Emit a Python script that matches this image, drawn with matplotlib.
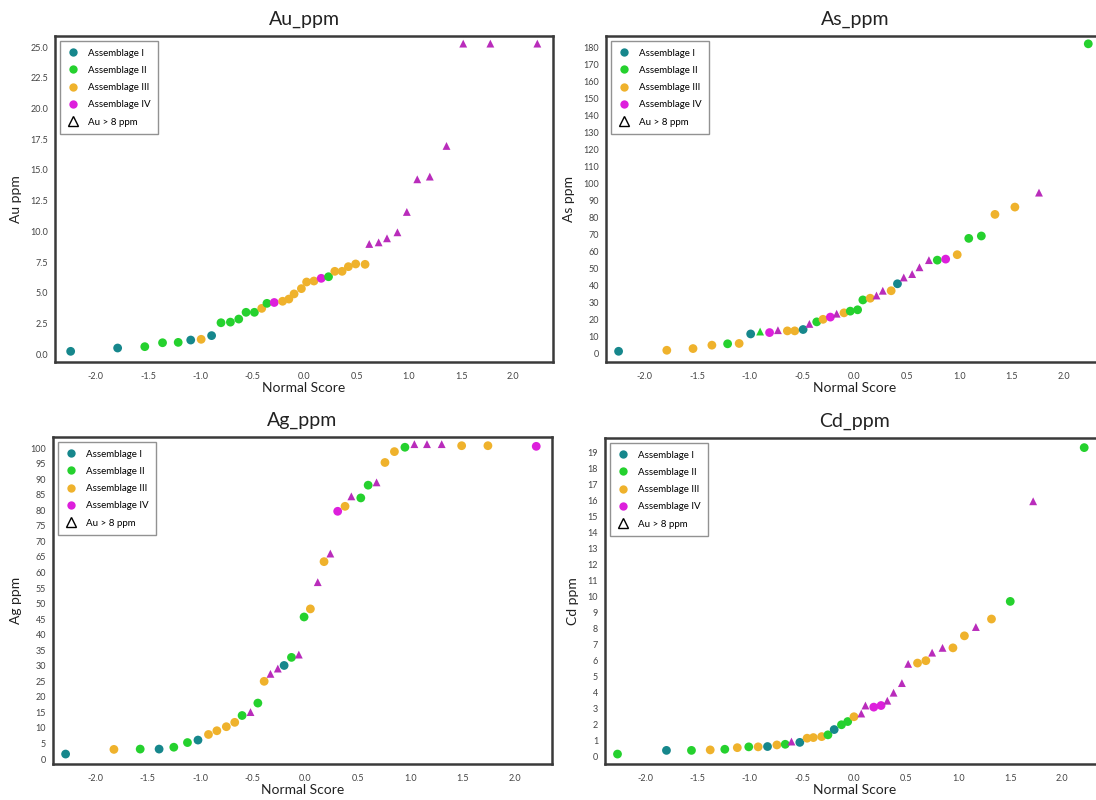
import matplotlib.pyplot as plt
from matplotlib.lines import Line2D

plt.rcParams['font.family'] = ['Lato', 'DejaVu Sans']

# colours per assemblage
colors = {'I': '#16878c', 'II': '#25d12e', 'III': '#efb22c', 'IV': '#dd1fdc'}
tri_color = '#b92cbb'

# Au panel
au_score = [-2.24, -1.79, -1.53, -1.36, -1.21, -1.09, -0.99, -0.89, -0.80, -0.71,
            -0.63, -0.56, -0.48, -0.41, -0.36, -0.29, -0.21, -0.15, -0.10, -0.03,
            0.02, 0.09, 0.16, 0.23, 0.29, 0.36, 0.42, 0.49, 0.58, 0.62,
            0.71, 0.79, 0.89, 0.98, 1.08, 1.20, 1.36, 1.52, 1.78, 2.23]
au_value = [0.22, 0.49, 0.60, 0.92, 0.95, 1.14, 1.20, 1.50, 2.55, 2.60,
            2.85, 3.40, 3.40, 3.72, 4.13, 4.20, 4.30, 4.48, 4.90, 5.33,
            5.87, 5.95, 6.17, 6.30, 6.74, 6.74, 7.12, 7.34, 7.31, 8.97,
            9.10, 9.43, 9.92, 11.58, 14.24, 14.46, 16.96, 25.3, 25.3, 25.3]
au_group = ['I', 'I', 'II', 'II', 'II', 'I', 'III', 'I', 'II', 'II',
            'II', 'II', 'II', 'III', 'II', 'IV', 'III', 'III', 'III', 'III',
            'III', 'III', 'IV', 'II', 'III', 'III', 'III', 'III', 'III', 'IV',
            'IV', 'IV', 'IV', 'IV', 'IV', 'IV', 'IV', 'IV', 'IV', 'IV']
au_hi = [0] * 29 + [1] * 11

# As panel
as_score = [-2.25, -1.79, -1.54, -1.36, -1.21, -1.10, -0.99, -0.90, -0.81, -0.73,
            -0.64, -0.57, -0.49, -0.43, -0.36, -0.30, -0.23, -0.17, -0.10, -0.04,
            0.03, 0.08, 0.15, 0.21, 0.27, 0.35, 0.41, 0.47, 0.55, 0.62,
            0.71, 0.79, 0.87, 0.98, 1.09, 1.21, 1.34, 1.53, 1.76, 2.23]
as_value = [1.2, 1.8, 2.8, 4.8, 5.6, 5.8, 11.4, 12.8, 12.2, 13.6,
            13.2, 13.2, 14.0, 17.3, 18.5, 20.0, 21.3, 23.3, 23.8, 24.8,
            25.6, 31.4, 32.4, 34.0, 36.8, 36.8, 40.9, 44.6, 46.6, 50.6,
            54.8, 54.8, 55.4, 58.0, 67.6, 69.0, 81.7, 86.0, 94.5, 182.0]
as_group = ['I', 'III', 'III', 'III', 'II', 'III', 'I', 'II', 'IV', 'IV',
            'III', 'III', 'I', 'IV', 'II', 'III', 'IV', 'IV', 'III', 'II',
            'II', 'II', 'III', 'IV', 'IV', 'III', 'I', 'IV', 'IV', 'IV',
            'IV', 'II', 'IV', 'III', 'II', 'II', 'III', 'III', 'IV', 'II']
as_hi = [0, 0, 0, 0, 0, 0, 0, 1, 0, 1,
         0, 0, 0, 1, 0, 0, 0, 1, 0, 0,
         0, 0, 0, 1, 1, 0, 0, 1, 1, 1,
         1, 0, 0, 0, 0, 0, 0, 0, 1, 0]

# Ag panel
ag_score = [-2.28, -1.82, -1.57, -1.39, -1.25, -1.12, -1.02, -0.92, -0.84, -0.75,
            -0.67, -0.60, -0.52, -0.45, -0.39, -0.33, -0.26, -0.20, -0.13, -0.06,
            -0.01, 0.05, 0.12, 0.18, 0.24, 0.31, 0.38, 0.44, 0.53, 0.60,
            0.68, 0.76, 0.85, 0.95, 1.04, 1.16, 1.30, 1.49, 1.74, 2.20]
ag_value = [1.6, 3.1, 3.2, 3.2, 3.8, 5.3, 6.1, 7.9, 9.1, 10.4,
            11.8, 14.0, 15.1, 18.0, 25.0, 27.4, 29.1, 30.1, 32.7, 33.6,
            45.7, 48.3, 56.9, 63.5, 66.1, 79.7, 81.3, 84.5, 84.0, 88.1,
            89.0, 95.4, 98.9, 100.3, 101.3, 101.3, 101.3, 100.8, 100.8, 100.6]
ag_group = ['I', 'III', 'II', 'I', 'II', 'II', 'I', 'III', 'III', 'III',
            'III', 'II', 'IV', 'II', 'III', 'IV', 'IV', 'I', 'II', 'IV',
            'II', 'III', 'IV', 'III', 'IV', 'IV', 'III', 'IV', 'II', 'II',
            'IV', 'III', 'III', 'II', 'IV', 'IV', 'IV', 'III', 'III', 'IV']
ag_hi = [0, 0, 0, 0, 0, 0, 0, 0, 0, 0,
         0, 0, 1, 0, 0, 1, 1, 0, 0, 1,
         0, 0, 1, 0, 1, 0, 0, 1, 0, 0,
         1, 0, 0, 0, 1, 1, 1, 0, 0, 0]

# Cd panel
cd_score = [-2.27, -1.80, -1.56, -1.38, -1.24, -1.12, -1.01, -0.92, -0.83, -0.74,
            -0.66, -0.60, -0.52, -0.45, -0.39, -0.31, -0.25, -0.19, -0.12, -0.06,
            0.00, 0.07, 0.11, 0.19, 0.26, 0.32, 0.38, 0.46, 0.52, 0.61,
            0.69, 0.75, 0.85, 0.95, 1.06, 1.17, 1.32, 1.50, 1.72, 2.21]
cd_value = [0.17, 0.40, 0.40, 0.43, 0.47, 0.57, 0.62, 0.62, 0.64, 0.74,
            0.78, 0.95, 0.90, 1.16, 1.20, 1.26, 1.37, 1.70, 2.00, 2.20,
            2.50, 2.70, 3.20, 3.10, 3.20, 3.50, 4.00, 4.60, 5.80, 5.85,
            6.00, 6.50, 6.80, 6.80, 7.55, 8.10, 8.60, 9.70, 15.95, 19.3]
cd_group = ['II', 'I', 'II', 'III', 'II', 'III', 'II', 'III', 'I', 'III',
            'II', 'IV', 'I', 'III', 'III', 'III', 'II', 'I', 'II', 'II',
            'III', 'IV', 'IV', 'IV', 'IV', 'IV', 'IV', 'IV', 'IV', 'III',
            'III', 'IV', 'IV', 'III', 'III', 'IV', 'III', 'II', 'IV', 'II']
cd_hi = [0, 0, 0, 0, 0, 0, 0, 0, 0, 0,
         0, 1, 0, 0, 0, 0, 0, 0, 0, 0,
         0, 1, 1, 0, 0, 1, 1, 1, 1, 0,
         0, 1, 1, 0, 0, 1, 0, 0, 1, 0]

fig = plt.figure(figsize=(10.96, 8), dpi=100)
W, H = 1096, 800


def make_axes(left, top, right, bottom):
    return fig.add_axes([left / W, 1 - bottom / H, (right - left) / W, (bottom - top) / H])


panels = [
    (make_axes(55, 36, 553, 362), 'Au_ppm', 'Au ppm', au_score, au_value, au_group, au_hi,
     (-2.39, 2.38), (-0.65, 25.92), [i * 2.5 for i in range(11)], '{:.1f}'),
    (make_axes(606, 36, 1104, 362), 'As_ppm', 'As ppm', as_score, as_value, as_group, as_hi,
     (-2.37, 2.38), (-5.1, 186.6), list(range(0, 181, 10)), '{:.0f}'),
    (make_axes(53, 437, 552, 764), 'Ag_ppm', 'Ag ppm', ag_score, ag_value, ag_group, ag_hi,
     (-2.40, 2.35), (-1.6, 103.6), list(range(0, 101, 5)), '{:.0f}'),
    (make_axes(605, 438, 1104, 764), 'Cd_ppm', 'Cd ppm', cd_score, cd_value, cd_group, cd_hi,
     (-2.39, 2.40), (-0.45, 19.9), list(range(0, 20)), '{:.0f}'),
]

xticks = [-2.0, -1.5, -1.0, -0.5, 0.0, 0.5, 1.0, 1.5, 2.0]

for ax, title, ylabel, xs, ys, grp, hi, xl, yl, yt, fmt in panels:
    for x, y, g, h in zip(xs, ys, grp, hi):
        if h:
            c = tri_color if g == 'IV' else colors[g]
            ax.scatter(x, y, marker='^', s=32, color=c, edgecolors='none', zorder=3)
        else:
            ax.scatter(x, y, marker='o', s=40, color=colors[g], edgecolors='none', zorder=3)
    ax.set_xlim(*xl)
    ax.set_ylim(*yl)
    ax.set_xticks(xticks)
    ax.set_xticklabels(['{:.1f}'.format(t) for t in xticks])
    ax.set_yticks(yt)
    ax.set_yticklabels([fmt.format(t) for t in yt])
    ax.tick_params(length=0, labelsize=6.5, colors='#444444')
    ax.tick_params(axis='x', pad=7)
    ax.tick_params(axis='y', pad=5)
    for sp in ax.spines.values():
        sp.set_color('#3a3a3a')
        sp.set_linewidth(1.8)
    ax.set_title(title, fontsize=14, pad=8, color='#222222')
    ax.set_xlabel('Normal Score', fontsize=10, color='#222222', labelpad=1)
    ax.set_ylabel(ylabel, fontsize=10, color='#222222', labelpad=6)

    handles = [Line2D([], [], marker='o', ls='none', ms=6, color=colors[k], mec='none')
               for k in ['I', 'II', 'III', 'IV']]
    handles.append(Line2D([], [], marker='^', ls='none', ms=7, mfc='none', mec='black', mew=1))
    labels = ['Assemblage I', 'Assemblage II', 'Assemblage III', 'Assemblage IV', 'Au > 8 ppm']
    leg = ax.legend(handles, labels, loc='upper left', fontsize=7, frameon=True, fancybox=False,
                    edgecolor='#777777', labelspacing=0.85, handletextpad=0.9,
                    borderpad=0.8, handlelength=1.2, borderaxespad=0.5)
    leg.get_frame().set_linewidth(1.0)

fig.savefig('out.png', dpi=100, facecolor='white')
